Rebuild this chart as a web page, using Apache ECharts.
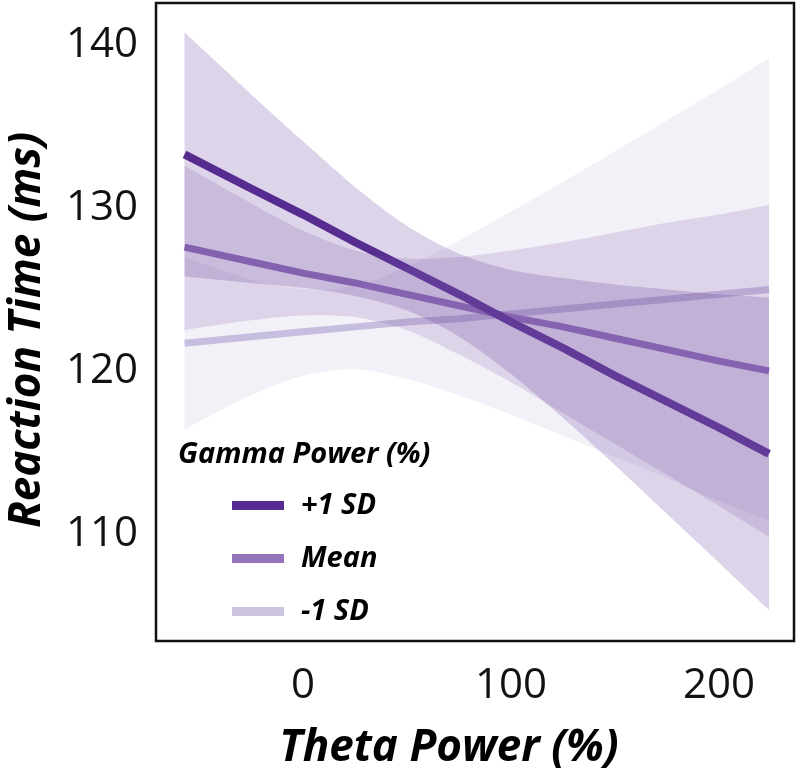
<!DOCTYPE html>
<html>
<head>
<meta charset="utf-8">
<script src="https://cdn.jsdelivr.net/npm/echarts@6/dist/echarts.min.js"></script>
<style>
html,body{margin:0;padding:0;background:#fff;}
#chart{width:800px;height:773px;}
</style>
</head>
<body>
<div id="chart"></div>
<script>
// Theta power (%) sample positions
const thetaX = [-57, -25, 0, 25, 50, 75, 100, 125, 150, 175, 200, 224];
// Fitted reaction time lines (ms)
const plusLine  = [133.3, 131.2, 129.6, 127.9, 126.3, 124.7, 123.0, 121.4, 119.7, 118.1, 116.5, 114.9];
const meanLine  = [127.6, 126.7, 126.0, 125.4, 124.7, 124.0, 123.3, 122.7, 122.0, 121.3, 120.6, 120.0];
const minusLine = [121.7, 122.1, 122.4, 122.7, 123.0, 123.2, 123.5, 123.8, 124.1, 124.4, 124.7, 125.0];
// Confidence bands
const plusLower  = [125.8, 125.4, 125.1, 124.6, 123.7, 122.1, 119.8, 117.1, 114.2, 111.2, 108.2, 105.3];
const plusUpper  = [140.8, 137.0, 134.1, 131.3, 128.9, 127.2, 126.2, 125.7, 125.3, 125.0, 124.7, 124.5];
const meanLower  = [122.5, 123.1, 123.4, 123.3, 122.5, 121.0, 119.3, 117.4, 115.5, 113.6, 111.7, 109.8];
const meanUpper  = [132.6, 130.3, 128.6, 127.4, 126.9, 127.0, 127.4, 127.9, 128.5, 129.1, 129.6, 130.2];
const minusLower = [116.4, 118.5, 119.7, 120.1, 119.5, 118.5, 117.3, 116.0, 114.7, 113.4, 112.0, 110.8];
const minusUpper = [127.0, 125.6, 125.0, 125.2, 126.4, 128.0, 129.8, 131.6, 133.5, 135.4, 137.3, 139.2];
// Axis ticks
const xTicks = [0, 100, 200];
const yTicks = [110, 120, 130, 140];
const seriesNames = ['+1 SD', 'Mean', '-1 SD'];

const chart = echarts.init(document.getElementById('chart'), null, {renderer: 'canvas'});

function pairs(xs, ys) { return xs.map((x, i) => [x, ys[i]]); }

function band(name, lower, upper, fill, z) {
  return {
    type: 'custom',
    name: name + ' band',
    silent: true,
    clip: true,
    z: z,
    data: [[thetaX[0], upper[0]]],
    encode: {x: 0, y: 1},
    renderItem: function (params, api) {
      const n = thetaX.length;
      const pts = [];
      // corners duplicated so the vertical ends stay straight when smoothing
      pts.push(api.coord([thetaX[0], upper[0]]));
      for (let i = 0; i < n; i++) pts.push(api.coord([thetaX[i], upper[i]]));
      pts.push(api.coord([thetaX[n - 1], upper[n - 1]]));
      pts.push(api.coord([thetaX[n - 1], lower[n - 1]]));
      for (let i = n - 1; i >= 0; i--) pts.push(api.coord([thetaX[i], lower[i]]));
      pts.push(api.coord([thetaX[0], lower[0]]));
      return {type: 'polygon', shape: {points: pts, smooth: 0.3}, style: {fill: fill, stroke: null}};
    }
  };
}

function line(name, ys, color, width) {
  return {
    type: 'line',
    name: name,
    data: pairs(thetaX, ys),
    showSymbol: false,
    silent: true,
    z: 2,
    color: color,
    itemStyle: {color: color},
    lineStyle: {color: color, width: width, cap: 'butt'}
  };
}

const font = '"Open Sans", "Liberation Sans", sans-serif';

const option = {
  animation: false,
  grid: {left: 156, right: 6, top: 3, bottom: 132, show: true, borderColor: '#111', borderWidth: 2.5, backgroundColor: 'transparent'},
  xAxis: {
    type: 'value', min: -70.7, max: 236,
    axisLine: {show: false}, axisTick: {show: false}, splitLine: {show: false},
    axisLabel: {customValues: xTicks, fontSize: 42, fontFamily: font, color: '#111', margin: 24}
  },
  yAxis: {
    type: 'value', min: 103.4, max: 142.6,
    axisLine: {show: false}, axisTick: {show: false}, splitLine: {show: false},
    axisLabel: {customValues: yTicks, fontSize: 42, fontFamily: font, color: '#111', margin: 18}
  },
  legend: {
    data: seriesNames,
    orient: 'vertical',
    left: 227, top: 486,
    icon: 'rect',
    itemWidth: 52, itemHeight: 9, itemGap: 24,
    selectedMode: false,
    textStyle: {fontFamily: font, fontStyle: 'italic', fontWeight: 'bold', fontSize: 29, lineHeight: 29, color: '#000', padding: [0, 0, 0, 12]}
  },
  graphic: [
    {type: 'text', x: 27, y: 330, rotation: Math.PI / 2,
      style: {text: 'Reaction Time (ms)', font: 'italic bold 44px ' + font, fill: '#000', align: 'center', verticalAlign: 'middle'}},
    {type: 'text', x: 449, y: 748,
      style: {text: 'Theta Power (%)', font: 'italic bold 44px ' + font, fill: '#000', align: 'center', verticalAlign: 'middle'}},
    {type: 'text', x: 178, y: 455,
      style: {text: 'Gamma Power (%)', font: 'italic bold 29px ' + font, fill: '#000', align: 'left', verticalAlign: 'middle'}}
  ],
  series: [
    line('-1 SD', minusLine, '#cdc4e2', 7),
    line('Mean', meanLine, '#9475bb', 7),
    line('+1 SD', plusLine, '#582d91', 8),
    band('-1 SD', minusLower, minusUpper, 'rgba(160,140,200,0.12)', 3),
    band('Mean', meanLower, meanUpper, 'rgba(128,96,170,0.2)', 3),
    band('+1 SD', plusLower, plusUpper, 'rgba(84,39,143,0.2)', 3)
  ]
};
chart.setOption(option);
</script>
</body>
</html>
